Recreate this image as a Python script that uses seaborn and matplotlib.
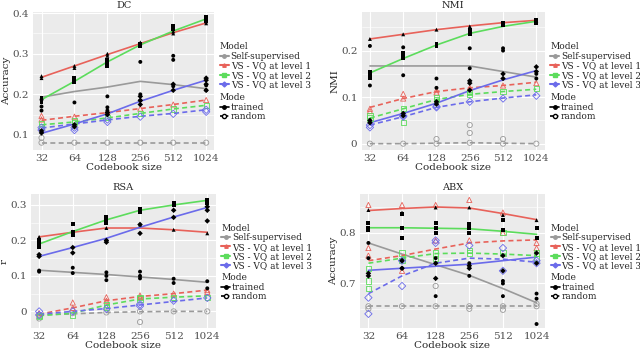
import numpy as np
import pandas as pd
import matplotlib
matplotlib.use('Agg')
import matplotlib.pyplot as plt
from matplotlib.lines import Line2D
from matplotlib.ticker import MultipleLocator
import seaborn as sns

sizes = [32, 64, 128, 256, 512, 1024]
models = ['Self-supervised', 'VS - VQ at level 1', 'VS - VQ at level 2', 'VS - VQ at level 3']
colors = ['#9a9a9a', '#e8625a', '#5cdc5c', '#6b6bea']
markers = ['o', '^', 's', 'D']

# ---- DC ----
dc_line_trained = [
    [0.193, 0.207, 0.218, 0.232, 0.224, 0.214],
    [0.242, 0.270, 0.298, 0.325, 0.352, 0.376],
    [0.187, 0.232, 0.280, 0.322, 0.356, 0.386],
    [0.104, 0.127, 0.152, 0.183, 0.210, 0.235],
]
dc_line_random = [
    [0.081, 0.081, 0.081, 0.081, 0.081, 0.081],
    [0.136, 0.146, 0.155, 0.165, 0.175, 0.186],
    [0.125, 0.132, 0.142, 0.153, 0.164, 0.173],
    [0.117, 0.127, 0.137, 0.146, 0.153, 0.162],
]
dc_pts_trained = [
    [[0.160, 0.170, 0.187], [0.180], [0.195, 0.168, 0.160], [0.280, 0.200, 0.185], [0.295, 0.285, 0.220], [0.210, 0.222]],
    [[0.240, 0.245], [0.265, 0.270], [0.295, 0.300], [0.325, 0.328], [0.350, 0.355], [0.375, 0.380]],
    [[0.180, 0.185, 0.190], [0.230, 0.235, 0.240], [0.270, 0.280, 0.285], [0.320, 0.325], [0.360, 0.365, 0.368], [0.380, 0.385, 0.390]],
    [[0.105, 0.110], [0.120, 0.125], [0.150, 0.155], [0.175, 0.185, 0.195], [0.210, 0.225], [0.210, 0.225, 0.235, 0.240]],
]
dc_pts_random = [
    [[0.081, 0.093], [0.081], [0.081], [0.081], [0.081], [0.081]],
    [[0.147, 0.138], [0.145], [0.158], [0.165], [0.175], [0.186]],
    [[0.120, 0.128], [0.130, 0.135], [0.142], [0.153], [0.164], [0.173]],
    [[0.112, 0.118], [0.112, 0.118], [0.132, 0.138], [0.145], [0.152], [0.157, 0.162]],
]

# ---- NMI ----
nmi_line_trained = [
    [0.167, 0.167, 0.167, 0.167, 0.155, 0.143],
    [0.225, 0.235, 0.245, 0.253, 0.260, 0.265],
    [0.152, 0.183, 0.212, 0.237, 0.252, 0.263],
    [0.045, 0.065, 0.087, 0.114, 0.137, 0.157],
]
nmi_line_random = [
    [0.000, 0.000, 0.001, 0.002, 0.001, 0.000],
    [0.078, 0.097, 0.112, 0.120, 0.125, 0.132],
    [0.055, 0.075, 0.095, 0.106, 0.112, 0.117],
    [0.040, 0.058, 0.078, 0.090, 0.098, 0.105],
]
nmi_pts_trained = [
    [[0.210, 0.125], [0.207, 0.147], [0.140, 0.120], [0.205, 0.162], [0.205, 0.200], [0.150, 0.140]],
    [[0.225], [0.235], [0.245], [0.252], [0.260], [0.265]],
    [[0.140, 0.145, 0.150, 0.155], [0.185, 0.190, 0.195], [0.210, 0.215], [0.235, 0.245], [0.255, 0.260], [0.260, 0.265]],
    [[0.045, 0.050], [0.060, 0.065], [0.085, 0.090], [0.115, 0.130, 0.135], [0.140, 0.150], [0.155, 0.165]],
]
nmi_pts_random = [
    [[0.000], [0.000], [0.000, 0.010], [0.040, 0.023, 0.002], [0.010, 0.000], [0.000]],
    [[0.075, 0.070], [0.107, 0.097], [0.110, 0.115], [0.120], [0.125], [0.130]],
    [[0.060, 0.055], [0.045, 0.075], [0.095, 0.100], [0.105, 0.110], [0.112], [0.118]],
    [[0.035, 0.040], [0.060, 0.058], [0.078, 0.080], [0.090], [0.097], [0.103]],
]

# ---- RSA ----
rsa_line_trained = [
    [0.116, 0.110, 0.104, 0.097, 0.090, 0.082],
    [0.210, 0.223, 0.235, 0.235, 0.230, 0.223],
    [0.190, 0.225, 0.258, 0.285, 0.300, 0.313],
    [0.155, 0.180, 0.206, 0.237, 0.266, 0.293],
]
rsa_line_random = [
    [-0.010, -0.007, -0.003, -0.001, 0.000, 0.000],
    [-0.008, 0.010, 0.030, 0.042, 0.050, 0.060],
    [-0.012, -0.005, 0.018, 0.035, 0.040, 0.044],
    [-0.008, 0.000, 0.008, 0.018, 0.028, 0.038],
]
rsa_pts_trained = [
    [[0.115, 0.112], [0.123, 0.108], [0.110, 0.100, 0.088], [0.112, 0.100, 0.093], [0.092, 0.080], [0.085, 0.065]],
    [[0.210], [0.225], [0.235], [0.245], [0.230], [0.220]],
    [[0.180, 0.190, 0.200], [0.215, 0.225, 0.245], [0.250, 0.260, 0.265], [0.280, 0.285, 0.290], [0.300, 0.305], [0.305, 0.310, 0.315]],
    [[0.155, 0.160], [0.165, 0.180], [0.195, 0.200], [0.220, 0.245], [0.265, 0.285], [0.255, 0.285, 0.295]],
]
rsa_pts_random = [
    [[-0.020, -0.010], [-0.005], [-0.003], [-0.030, 0.000], [0.000], [0.000]],
    [[-0.005], [0.025, 0.010], [0.040, 0.030], [0.045, 0.040], [0.050], [0.055, 0.060]],
    [[-0.012, -0.015], [-0.010], [0.020, 0.010], [0.040, 0.035], [0.040], [0.040]],
    [[0.000, -0.010], [0.000], [0.007], [0.020, 0.015], [0.030], [0.038]],
]

# ---- ABX ----
abx_line_trained = [
    [0.780, 0.758, 0.737, 0.716, 0.690, 0.662],
    [0.844, 0.848, 0.851, 0.849, 0.838, 0.826],
    [0.810, 0.810, 0.809, 0.808, 0.803, 0.797],
    [0.726, 0.730, 0.734, 0.738, 0.745, 0.752],
]
abx_line_random = [
    [0.655, 0.655, 0.655, 0.655, 0.655, 0.655],
    [0.745, 0.755, 0.768, 0.780, 0.784, 0.786],
    [0.740, 0.750, 0.759, 0.760, 0.758, 0.755],
    [0.680, 0.715, 0.740, 0.750, 0.748, 0.742],
]
abx_pts_trained = [
    [[0.780, 0.750], [0.745, 0.730], [0.750, 0.675], [0.740, 0.715], [0.705, 0.700, 0.675], [0.680, 0.670, 0.620]],
    [[0.845], [0.840], [0.850], [0.850], [0.835], [0.825]],
    [[0.820, 0.810, 0.805], [0.838, 0.810, 0.790], [0.820, 0.810, 0.800], [0.818, 0.810, 0.800], [0.825, 0.805], [0.810, 0.790]],
    [[0.720, 0.715], [0.745, 0.730], [0.740, 0.710], [0.735, 0.730], [0.755, 0.725], [0.760, 0.740]],
]
abx_pts_random = [
    [[0.655, 0.650], [0.655], [0.655, 0.695], [0.655, 0.650], [0.655, 0.648], [0.655, 0.660]],
    [[0.855, 0.770, 0.755], [0.855, 0.725], [0.855, 0.785], [0.865, 0.785], [0.840, 0.800], [0.780, 0.770]],
    [[0.730, 0.705, 0.690], [0.760, 0.745], [0.760, 0.750], [0.765, 0.760], [0.800, 0.760], [0.760, 0.750]],
    [[0.672, 0.640], [0.695, 0.745], [0.785, 0.780], [0.775], [0.770, 0.725], [0.745, 0.740]],
]

panels = [
    ('DC', 'Accuracy', dc_line_trained, dc_line_random, dc_pts_trained, dc_pts_random,
     (0.063, 0.403), [0.052, 0.574, 0.283, 0.392]),
    ('NMI', 'NMI', nmi_line_trained, nmi_line_random, nmi_pts_trained, nmi_pts_random,
     (-0.0135, 0.283), [0.565, 0.574, 0.286, 0.392]),
    ('RSA', 'r', rsa_line_trained, rsa_line_random, rsa_pts_trained, rsa_pts_random,
     (-0.047, 0.33), [0.048, 0.068, 0.289, 0.380]),
    ('ABX', 'Accuracy', abx_line_trained, abx_line_random, abx_pts_trained, abx_pts_random,
     (0.612, 0.876), [0.5625, 0.068, 0.289, 0.380]),
]


def lines_frame(trained, random):
    rows = []
    for mode, arr in (('trained', trained), ('random', random)):
        for m, vals in zip(models, arr):
            for s, v in zip(sizes, vals):
                rows.append({'size': s, 'value': v, 'Model': m, 'Mode': mode})
    return pd.DataFrame(rows)


def points_frame(trained, random):
    rows = []
    for mode, arr in (('trained', trained), ('random', random)):
        for m, per_size in zip(models, arr):
            for s, vals in zip(sizes, per_size):
                for v in vals:
                    rows.append({'size': s, 'value': v, 'Model': m, 'Mode': mode})
    return pd.DataFrame(rows)


sns.set_theme(style='darkgrid')
plt.rcParams['font.family'] = ['DejaVu Serif']
plt.rcParams['axes.facecolor'] = '#ebebeb'

fig = plt.figure(figsize=(6.4, 3.52), dpi=100)
palette = dict(zip(models, colors))
marker_map = dict(zip(models, markers))

for title, ylabel, lt, lr, pt, pr, ylim, rect in panels:
    ax = fig.add_axes(rect)
    lines = lines_frame(lt, lr)
    pts = points_frame(pt, pr)

    sns.lineplot(data=lines, x='size', y='value', hue='Model', style='Mode',
                 palette=palette, dashes={'trained': '', 'random': (3, 2)},
                 style_order=['trained', 'random'], linewidth=1.2, legend=False, ax=ax)

    # hollow coloured markers for random runs
    for m, c in zip(models, colors):
        sub = pts[(pts.Model == m) & (pts.Mode == 'random')]
        ax.scatter(sub['size'], sub['value'], marker=marker_map[m], s=14,
                   facecolors='none', edgecolors=c, linewidths=0.6, zorder=3)

    # black filled markers for trained runs
    sns.scatterplot(data=pts[pts.Mode == 'trained'], x='size', y='value',
                    style='Model', markers=marker_map, color='black', s=8,
                    edgecolor='none', legend=False, ax=ax, zorder=4)

    ax.set_xscale('log', base=2)
    ax.set_xlim(32 / 2 ** 0.25, 1024 * 2 ** 0.25)
    ax.set_xticks(sizes)
    ax.set_xticklabels([str(s) for s in sizes])
    ax.xaxis.set_minor_locator(plt.NullLocator())
    ax.set_ylim(*ylim)
    ax.yaxis.set_major_locator(MultipleLocator(0.1))
    ax.yaxis.set_minor_locator(MultipleLocator(0.05))
    ax.yaxis.set_major_formatter(plt.FuncFormatter(lambda v, p: f'{v:g}' if abs(v) > 1e-9 else '0'))
    ax.grid(which='major', color='white', linewidth=0.8)
    ax.grid(which='minor', axis='y', color='white', linewidth=0.4)
    ax.tick_params(axis='both', which='major', labelsize=7.5, labelcolor='#4d4d4d',
                   length=2, color='#4d4d4d', pad=1)
    ax.tick_params(which='minor', length=0)
    for sp in ax.spines.values():
        sp.set_visible(False)
    ax.set_title(title, fontsize=7, pad=3)
    ax.set_xlabel('Codebook size', fontsize=7.5, labelpad=0)
    ax.set_ylabel(ylabel, fontsize=7.5, labelpad=1)

    model_handles = [Line2D([0], [0], color=c, lw=1.5, marker=mk, markersize=2.5)
                     for c, mk in zip(colors, markers)]
    leg1 = ax.legend(model_handles, models, title='Model', loc='upper left',
                     bbox_to_anchor=(1.03, 0.78), frameon=False, fontsize=6.5,
                     title_fontsize=6.5, handlelength=1.0, handletextpad=0.2,
                     labelspacing=0.05, borderpad=0, borderaxespad=0)
    leg1._legend_box.align = 'left'
    ax.add_artist(leg1)
    mode_handles = [Line2D([0], [0], color='black', lw=1.2, marker='o', markersize=2.5),
                    Line2D([0], [0], color='black', lw=1.2, linestyle=(0, (2, 1)), marker='o',
                           markersize=3, markerfacecolor='white')]
    leg2 = ax.legend(mode_handles, ['trained', 'random'], title='Mode', loc='upper left',
                     bbox_to_anchor=(1.03, 0.41), frameon=False, fontsize=6.5,
                     title_fontsize=6.5, handlelength=1.0, handletextpad=0.2,
                     labelspacing=0.05, borderpad=0, borderaxespad=0)
    leg2._legend_box.align = 'left'

fig.savefig('out.png', dpi=100)
